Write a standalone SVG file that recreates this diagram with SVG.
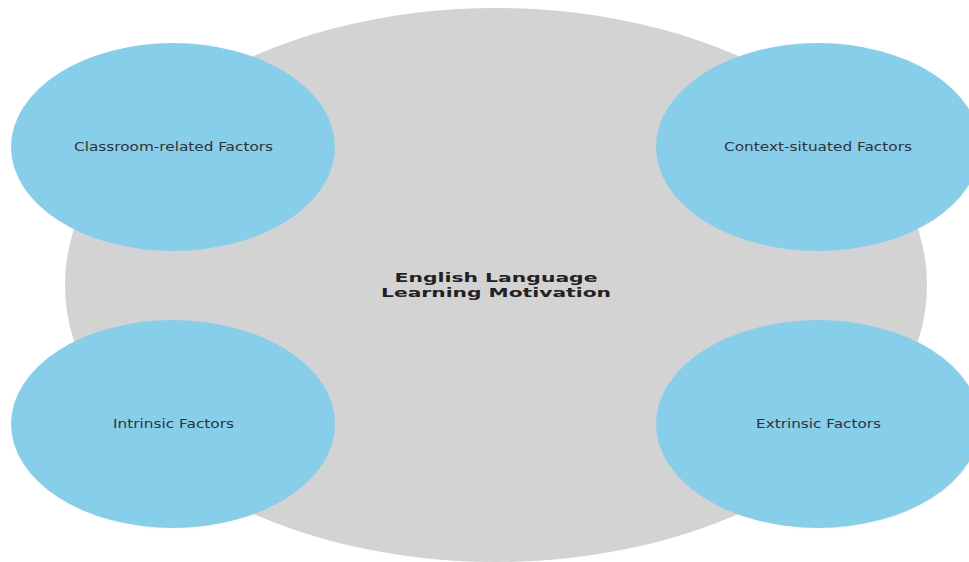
<svg xmlns="http://www.w3.org/2000/svg" width="969" height="562" viewBox="0 0 969 562">
<style>
.bg{fill:#ffffff}
.core{fill:#d3d3d3}
.sub{fill:#87ceeb}
.lbl{font-family:"DejaVu Sans",sans-serif;font-size:12px;fill:#333333;text-anchor:middle}
.main{font-family:"DejaVu Sans",sans-serif;font-size:12px;font-weight:bold;fill:#222222;text-anchor:middle}
</style>
<rect class="bg" x="0" y="0" width="969" height="562"/>
<g id="center">
<ellipse class="core" cx="496" cy="285" rx="431" ry="277"/>
<text class="main" x="496" y="282" textLength="203" lengthAdjust="spacingAndGlyphs">English Language</text>
<text class="main" x="496" y="297" textLength="230" lengthAdjust="spacingAndGlyphs">Learning Motivation</text>
</g>
<g id="connectors"></g>
<g id="classroom">
<ellipse class="sub" cx="173" cy="147" rx="162" ry="104"/>
<text class="lbl" x="173.5" y="151" textLength="199" lengthAdjust="spacingAndGlyphs">Classroom-related Factors</text>
</g>
<g id="context">
<ellipse class="sub" cx="818" cy="147" rx="162" ry="104"/>
<text class="lbl" x="818" y="151" textLength="188" lengthAdjust="spacingAndGlyphs">Context-situated Factors</text>
</g>
<g id="intrinsic">
<ellipse class="sub" cx="173" cy="424" rx="162" ry="104"/>
<text class="lbl" x="173.5" y="428" textLength="121" lengthAdjust="spacingAndGlyphs">Intrinsic Factors</text>
</g>
<g id="extrinsic">
<ellipse class="sub" cx="818" cy="424" rx="162" ry="104"/>
<text class="lbl" x="818.5" y="428" textLength="125" lengthAdjust="spacingAndGlyphs">Extrinsic Factors</text>
</g>
</svg>
